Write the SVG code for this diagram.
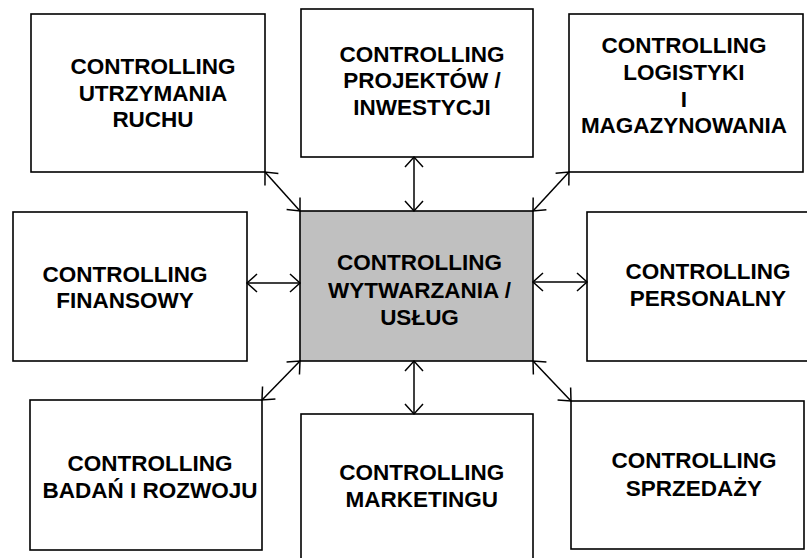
<svg xmlns="http://www.w3.org/2000/svg" width="807" height="558" viewBox="0 0 807 558">
  <style>
    .box { fill: #ffffff; stroke: #000000; stroke-width: 1.6; }
    .core { fill: #c0c0c0; stroke: #000000; stroke-width: 1.6; }
    .lbl { font-family: "Liberation Sans", Arial, sans-serif; font-weight: bold; font-size: 22.5px; fill: #000000; text-anchor: middle; }
    .link { stroke: #000000; stroke-width: 1.5; fill: none; marker-start: url(#tip); marker-end: url(#tip); }
  </style>
  <defs>
    <marker id="tip" viewBox="-12 -12 24 24" markerWidth="24" markerHeight="24" refX="0" refY="0" markerUnits="userSpaceOnUse" orient="auto-start-reverse">
      <path d="M-10,-9 L0,0 L-10,9" fill="none" stroke="#000000" stroke-width="1.5"/>
    </marker>
  </defs>
  <rect width="807" height="558" fill="#ffffff"/>

  <g id="utrzymania-ruchu">
    <rect class="box" x="31" y="14" width="234" height="158"/>
    <text class="lbl" x="153" y="74">CONTROLLING</text>
    <text class="lbl" x="153" y="100.7">UTRZYMANIA</text>
    <text class="lbl" x="153" y="127.4">RUCHU</text>
  </g>

  <g id="projekty-inwestycje">
    <rect class="box" x="301" y="9" width="232" height="148"/>
    <text class="lbl" x="422" y="61.7">CONTROLLING</text>
    <text class="lbl" x="422" y="88.4">PROJEKTÓW /</text>
    <text class="lbl" x="422" y="115.1">INWESTYCJI</text>
  </g>

  <g id="logistyka-magazynowanie">
    <rect class="box" x="569" y="14" width="234" height="158"/>
    <text class="lbl" x="684" y="53.3">CONTROLLING</text>
    <text class="lbl" x="684" y="80">LOGISTYKI</text>
    <text class="lbl" x="684" y="106.7">I</text>
    <text class="lbl" x="684" y="133.4">MAGAZYNOWANIA</text>
  </g>

  <g id="finansowy">
    <rect class="box" x="13" y="212" width="234" height="149"/>
    <text class="lbl" x="125" y="281.7">CONTROLLING</text>
    <text class="lbl" x="125" y="308.4">FINANSOWY</text>
  </g>

  <g id="wytwarzanie-uslugi">
    <rect class="core" x="300" y="211" width="233" height="150"/>
    <text class="lbl" x="419.5" y="270.3">CONTROLLING</text>
    <text class="lbl" x="419.5" y="297.6">WYTWARZANIA /</text>
    <text class="lbl" x="419.5" y="324.9">USŁUG</text>
  </g>

  <g id="personalny">
    <rect class="box" x="587" y="212" width="225" height="149"/>
    <text class="lbl" x="708" y="279">CONTROLLING</text>
    <text class="lbl" x="708" y="305.7">PERSONALNY</text>
  </g>

  <g id="badania-rozwoj">
    <rect class="box" x="30" y="400" width="232" height="150"/>
    <text class="lbl" x="150" y="470.7">CONTROLLING</text>
    <text class="lbl" x="150" y="497.7">BADAŃ I ROZWOJU</text>
  </g>

  <g id="marketing">
    <rect class="box" x="301" y="414" width="232" height="150"/>
    <text class="lbl" x="421.7" y="480">CONTROLLING</text>
    <text class="lbl" x="421.7" y="506.7">MARKETINGU</text>
  </g>

  <g id="sprzedaz">
    <rect class="box" x="571" y="401" width="233" height="148"/>
    <text class="lbl" x="694" y="468.3">CONTROLLING</text>
    <text class="lbl" x="694" y="495.6">SPRZEDAŻY</text>
  </g>

  <g id="connectors">
    <line class="link" x1="265" y1="172" x2="300" y2="211"/>
    <line class="link" x1="414" y1="157" x2="414" y2="211"/>
    <line class="link" x1="569" y1="172" x2="533" y2="211"/>
    <line class="link" x1="247" y1="283" x2="300" y2="283"/>
    <line class="link" x1="533" y1="282" x2="587" y2="282"/>
    <line class="link" x1="300" y1="361" x2="262" y2="400"/>
    <line class="link" x1="414" y1="361" x2="414" y2="414"/>
    <line class="link" x1="533" y1="361" x2="571" y2="401"/>
  </g>
</svg>
